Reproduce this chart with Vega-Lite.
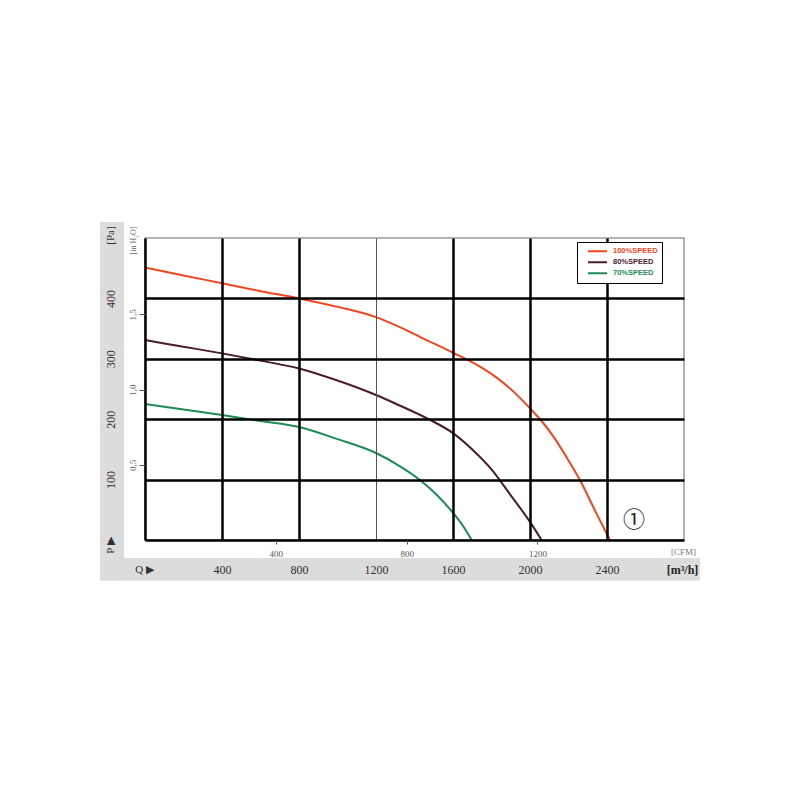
{
  "$schema": "https://vega.github.io/schema/vega-lite/v6.json",
  "width": 539,
  "height": 302,
  "autosize": {"type": "none"},
  "padding": {"left": 145, "top": 238, "right": 116, "bottom": 260},
  "background": "white",
  "config": {
    "view": {"stroke": "#9a9a9a", "strokeWidth": 1.5},
    "axis": {"zindex": 2, "labelFont": "Liberation Serif", "titleFont": "Liberation Serif"}
  },
  "datasets": {
    "one": [{"k": 1}],
    "note": [{"Q": 2540, "P": 33, "label": "①"}],
    "curves": [
      {"speed": "100%SPEED", "Q": 0, "P": 451},
      {"speed": "100%SPEED", "Q": 200, "P": 438},
      {"speed": "100%SPEED", "Q": 400, "P": 425},
      {"speed": "100%SPEED", "Q": 600, "P": 412},
      {"speed": "100%SPEED", "Q": 800, "P": 400},
      {"speed": "100%SPEED", "Q": 1000, "P": 386},
      {"speed": "100%SPEED", "Q": 1200, "P": 369},
      {"speed": "100%SPEED", "Q": 1360, "P": 347},
      {"speed": "100%SPEED", "Q": 1430, "P": 336},
      {"speed": "100%SPEED", "Q": 1600, "P": 310},
      {"speed": "100%SPEED", "Q": 1740, "P": 287},
      {"speed": "100%SPEED", "Q": 1830, "P": 268},
      {"speed": "100%SPEED", "Q": 1920, "P": 244},
      {"speed": "100%SPEED", "Q": 2000, "P": 218},
      {"speed": "100%SPEED", "Q": 2060, "P": 197},
      {"speed": "100%SPEED", "Q": 2120, "P": 172},
      {"speed": "100%SPEED", "Q": 2190, "P": 137},
      {"speed": "100%SPEED", "Q": 2260, "P": 99},
      {"speed": "100%SPEED", "Q": 2345, "P": 44},
      {"speed": "100%SPEED", "Q": 2415, "P": 0},
      {"speed": "80%SPEED", "Q": 0, "P": 331},
      {"speed": "80%SPEED", "Q": 200, "P": 320},
      {"speed": "80%SPEED", "Q": 400, "P": 309},
      {"speed": "80%SPEED", "Q": 600, "P": 297},
      {"speed": "80%SPEED", "Q": 800, "P": 284},
      {"speed": "80%SPEED", "Q": 1000, "P": 264},
      {"speed": "80%SPEED", "Q": 1200, "P": 240},
      {"speed": "80%SPEED", "Q": 1300, "P": 226},
      {"speed": "80%SPEED", "Q": 1480, "P": 199},
      {"speed": "80%SPEED", "Q": 1600, "P": 177},
      {"speed": "80%SPEED", "Q": 1700, "P": 150},
      {"speed": "80%SPEED", "Q": 1800, "P": 117},
      {"speed": "80%SPEED", "Q": 1900, "P": 74},
      {"speed": "80%SPEED", "Q": 2000, "P": 30},
      {"speed": "80%SPEED", "Q": 2060, "P": 0},
      {"speed": "70%SPEED", "Q": 0, "P": 225},
      {"speed": "70%SPEED", "Q": 200, "P": 216},
      {"speed": "70%SPEED", "Q": 400, "P": 207},
      {"speed": "70%SPEED", "Q": 600, "P": 197},
      {"speed": "70%SPEED", "Q": 800, "P": 187},
      {"speed": "70%SPEED", "Q": 1000, "P": 167},
      {"speed": "70%SPEED", "Q": 1200, "P": 144},
      {"speed": "70%SPEED", "Q": 1325, "P": 122},
      {"speed": "70%SPEED", "Q": 1430, "P": 99},
      {"speed": "70%SPEED", "Q": 1515, "P": 75},
      {"speed": "70%SPEED", "Q": 1600, "P": 45},
      {"speed": "70%SPEED", "Q": 1655, "P": 22},
      {"speed": "70%SPEED", "Q": 1697, "P": 0}
    ]
  },
  "resolve": {"scale": {"x": "independent", "y": "independent"}},
  "layer": [
    {
      "data": {"name": "one"},
      "mark": {"type": "rect", "color": "#dcdcdc", "clip": false},
      "encoding": {
        "x": {
          "datum": -234, "type": "quantitative",
          "scale": {"domain": [0, 2800], "nice": false, "zero": false},
          "axis": {
            "zindex": 2,
            "domain": false, "ticks": false, "labels": false, "grid": false,
            "title": "Q ▶", "titleX": -1, "titleY": 29, "titleAlign": "center",
            "titleBaseline": "middle", "titleFontSize": 11, "titleFontWeight": "normal",
            "titleColor": "#333"
          }
        },
        "x2": {"datum": 2883},
        "y": {
          "datum": -30, "type": "quantitative",
          "scale": {"domain": [0, 500], "nice": false, "zero": false},
          "axis": null
        },
        "y2": {"datum": -67}
      }
    },
    {
      "data": {"name": "one"},
      "mark": {"type": "rect", "color": "#dcdcdc", "clip": false},
      "encoding": {
        "x": {
          "datum": -234, "type": "quantitative",
          "scale": {"domain": [0, 2800], "nice": false, "zero": false},
          "axis": null
        },
        "x2": {"datum": -109},
        "y": {
          "datum": 526.5, "type": "quantitative",
          "scale": {"domain": [0, 500], "nice": false, "zero": false},
          "axis": {
            "zindex": 2,
            "domain": false, "ticks": false, "labels": false, "grid": false,
            "title": "P ▶", "titleX": -35, "titleY": 307, "titleAngle": 270,
            "titleAlign": "center", "titleBaseline": "middle", "titleFontSize": 11,
            "titleFontWeight": "normal", "titleColor": "#333"
          }
        },
        "y2": {"datum": -67}
      }
    },
    {
      "data": {"name": "curves"},
      "mark": {"type": "line", "strokeWidth": 2, "interpolate": "monotone", "clip": false},
      "encoding": {
        "x": {
          "field": "Q", "type": "quantitative",
          "scale": {"domain": [0, 2800], "nice": false, "zero": false},
          "axis": {
            "zindex": 2,
            "orient": "bottom", "values": [400, 800, 1200, 1600, 2000, 2400],
            "format": "d",
            "domain": true, "domainColor": "#000", "domainWidth": 2.5,
            "ticks": false, "tickSize": 0,
            "labelFontSize": 12, "labelColor": "#333", "labelPadding": 29,
            "labelBaseline": "middle", "labelAlign": "center",
            "grid": true,
            "gridColor": {"condition": {"test": "datum.value == 1200", "value": "#555"}, "value": "#000"},
            "gridWidth": {"condition": {"test": "datum.value == 1200", "value": 1}, "value": 2.5},
            "title": "[m³/h]", "titleX": 537, "titleY": 29, "titleAlign": "center",
            "titleBaseline": "middle", "titleFontSize": 12, "titleFontWeight": "bold",
            "titleColor": "#222"
          }
        },
        "y": {
          "field": "P", "type": "quantitative",
          "scale": {"domain": [0, 500], "nice": false, "zero": false},
          "axis": {
            "zindex": 2,
            "orient": "left", "values": [100, 200, 300, 400],
            "format": "d",
            "domain": true, "domainColor": "#000", "domainWidth": 2.5,
            "ticks": false, "tickSize": 0,
            "labelFontSize": 12, "labelColor": "#333", "labelPadding": 35,
            "labelAngle": 270, "labelAlign": "center", "labelBaseline": "middle",
            "grid": true, "gridColor": "#000", "gridWidth": 2.5,
            "title": "[Pa]", "titleX": -35, "titleY": -3, "titleAngle": 270,
            "titleAlign": "center", "titleBaseline": "middle", "titleFontSize": 11,
            "titleFontWeight": "normal", "titleColor": "#333"
          }
        },
        "color": {
          "field": "speed", "type": "nominal",
          "scale": {
            "domain": ["100%SPEED", "80%SPEED", "70%SPEED"],
            "range": ["#f2461e", "#4a1b2f", "#1f8a55"]
          },
          "legend": {
            "orient": "none", "legendX": 432, "legendY": 4, "title": null,
            "fillColor": "white", "strokeColor": "#000", "padding": 4,
            "symbolType": "stroke", "symbolSize": 361, "symbolStrokeWidth": 2,
            "symbolOffset": 6, "labelOffset": 5, "clipHeight": 10.5, "rowPadding": 0,
            "labelFont": "Liberation Sans", "labelFontSize": 7.5, "labelFontWeight": "bold",
            "zindex": 3,
            "encode": {"labels": {"update": {"fill": {"scale": "color", "field": "value"}}}}
          }
        }
      }
    },
    {
      "data": {"name": "one"},
      "mark": {"type": "point", "opacity": 0},
      "encoding": {
        "x": {
          "datum": 0, "type": "quantitative",
          "scale": {"domain": [0, 1648.03], "nice": false, "zero": false},
          "axis": {
            "zindex": 2,
            "orient": "bottom", "values": [400, 800, 1200], "format": "d",
            "domain": false, "grid": false,
            "ticks": true, "tickSize": 4, "tickColor": "#555", "tickWidth": 1,
            "labelFontSize": 9, "labelColor": "#555", "labelPadding": 9,
            "labelBaseline": "middle", "labelAlign": "center",
            "title": "[CFM]", "titleX": 538, "titleY": 11, "titleAlign": "center",
            "titleBaseline": "middle", "titleFontSize": 9, "titleFontWeight": "normal",
            "titleColor": "#777"
          }
        }
      }
    },
    {
      "data": {"name": "one"},
      "mark": {"type": "point", "opacity": 0},
      "encoding": {
        "y": {
          "datum": 0, "type": "quantitative",
          "scale": {"domain": [0, 2.00732], "nice": false, "zero": false},
          "axis": {
            "zindex": 2,
            "orient": "left", "values": [0.5, 1, 1.5],
            "domain": false, "grid": false,
            "ticks": true, "tickSize": 6, "tickColor": "#555", "tickWidth": 1,
            "labelFontSize": 9, "labelColor": "#666", "labelPadding": 7,
            "labelAngle": 270, "labelAlign": "center", "labelBaseline": "middle",
            "labelExpr": "replace(format(datum.value, '.1f'), '.', ',')",
            "title": "[in H₂O]", "titleX": -12, "titleY": 2, "titleAngle": 270,
            "titleAlign": "center", "titleBaseline": "middle", "titleFontSize": 8,
            "titleFontWeight": "normal", "titleColor": "#666"
          }
        }
      }
    },
    {
      "data": {"name": "note"},
      "mark": {"type": "text", "font": "Noto Sans CJK JP", "fontSize": 22, "color": "#222", "baseline": "middle", "align": "center"},
      "encoding": {
        "x": {
          "field": "Q", "type": "quantitative",
          "scale": {"domain": [0, 2800], "nice": false, "zero": false},
          "axis": null
        },
        "y": {
          "field": "P", "type": "quantitative",
          "scale": {"domain": [0, 500], "nice": false, "zero": false},
          "axis": null
        },
        "text": {"field": "label"}
      }
    }
  ]
}
